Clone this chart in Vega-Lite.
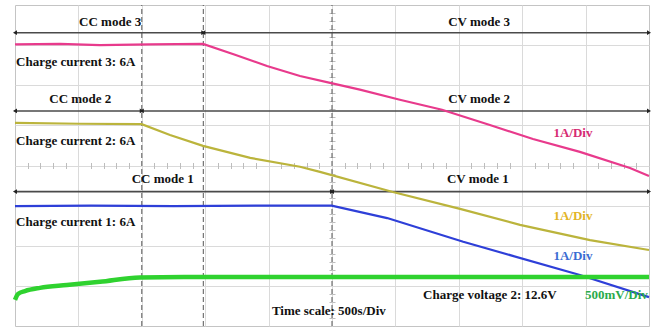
{
  "$schema": "https://vega.github.io/schema/vega-lite/v6.json",
  "width": 634,
  "height": 321,
  "autosize": "none",
  "padding": {"left": 15, "top": 5, "right": 4, "bottom": 2},
  "background": "white",
  "config": {"view": {"stroke": "#c4c4c4", "strokeWidth": 1}},
  "datasets": {
    "traces": [
      {"series": "ch3", "t": 0, "v": 7.02}, {"series": "ch3", "t": 0.71, "v": 7.03}, {"series": "ch3", "t": 1.34, "v": 7.0}, {"series": "ch3", "t": 2.13, "v": 7.02}, {"series": "ch3", "t": 2.965, "v": 7.03},
      {"series": "ch3", "t": 3.47, "v": 6.76}, {"series": "ch3", "t": 3.975, "v": 6.48}, {"series": "ch3", "t": 4.495, "v": 6.23}, {"series": "ch3", "t": 4.97, "v": 6.06}, {"series": "ch3", "t": 5.44, "v": 5.89},
      {"series": "ch3", "t": 6.07, "v": 5.64}, {"series": "ch3", "t": 6.735, "v": 5.39}, {"series": "ch3", "t": 7.49, "v": 5.01}, {"series": "ch3", "t": 8.17, "v": 4.66}, {"series": "ch3", "t": 8.91, "v": 4.34},
      {"series": "ch3", "t": 9.7, "v": 3.94}, {"series": "ch3", "t": 10, "v": 3.74},
      {"series": "ch2", "t": 0, "v": 5.06}, {"series": "ch2", "t": 1.025, "v": 5.04}, {"series": "ch2", "t": 1.998, "v": 5.03}, {"series": "ch2", "t": 2.445, "v": 4.76}, {"series": "ch2", "t": 2.965, "v": 4.49},
      {"series": "ch2", "t": 3.71, "v": 4.19}, {"series": "ch2", "t": 4.495, "v": 3.97}, {"series": "ch2", "t": 4.81, "v": 3.84}, {"series": "ch2", "t": 5.96, "v": 3.34}, {"series": "ch2", "t": 7.02, "v": 2.92},
      {"series": "ch2", "t": 7.965, "v": 2.52}, {"series": "ch2", "t": 9.07, "v": 2.14}, {"series": "ch2", "t": 10, "v": 1.895},
      {"series": "ch1", "t": 0, "v": 2.99}, {"series": "ch1", "t": 1.2, "v": 3.0}, {"series": "ch1", "t": 2.5, "v": 2.99}, {"series": "ch1", "t": 3.8, "v": 3.0}, {"series": "ch1", "t": 4.995, "v": 3.0},
      {"series": "ch1", "t": 5.87, "v": 2.69}, {"series": "ch1", "t": 7.07, "v": 2.1}, {"series": "ch1", "t": 8.91, "v": 1.27}, {"series": "ch1", "t": 10, "v": 0.72},
      {"series": "v2", "t": 0, "v": 0.65}, {"series": "v2", "t": 0.047, "v": 0.8}, {"series": "v2", "t": 0.158, "v": 0.87}, {"series": "v2", "t": 0.394, "v": 0.95}, {"series": "v2", "t": 0.82, "v": 1.02},
      {"series": "v2", "t": 1.34, "v": 1.1}, {"series": "v2", "t": 1.97, "v": 1.21}, {"series": "v2", "t": 2.92, "v": 1.22}, {"series": "v2", "t": 5, "v": 1.22}, {"series": "v2", "t": 7.5, "v": 1.22}, {"series": "v2", "t": 10, "v": 1.22}
    ],
    "dashes": [{"t": 2.0}, {"t": 2.97}, {"t": 5.0}],
    "arrows": [
      {"t0": 0, "t1": 2.97, "v": 7.31}, {"t0": 2.97, "t1": 10, "v": 7.31},
      {"t0": 0, "t1": 2.0, "v": 5.36}, {"t0": 2.0, "t1": 10, "v": 5.36},
      {"t0": 0, "t1": 5.0, "v": 3.35}, {"t0": 5.0, "t1": 10, "v": 3.35}
    ],
    "centerLabels": [
      {"text": "CC mode 3", "t": 1.5, "v": 7.58, "series": "note"},
      {"text": "CV mode 3", "t": 7.32, "v": 7.58, "series": "note"},
      {"text": "CC mode 2", "t": 1.03, "v": 5.66, "series": "note"},
      {"text": "CV mode 2", "t": 7.32, "v": 5.66, "series": "note"},
      {"text": "CC mode 1", "t": 2.33, "v": 3.66, "series": "note"},
      {"text": "CV mode 1", "t": 7.3, "v": 3.66, "series": "note"},
      {"text": "1A/Div", "t": 8.8, "v": 4.81, "series": "ch3 label"},
      {"text": "1A/Div", "t": 8.8, "v": 2.74, "series": "ch2 label"},
      {"text": "1A/Div", "t": 8.8, "v": 1.75, "series": "ch1 label"},
      {"text": "Charge voltage 2: 12.6V", "t": 7.49, "v": 0.77, "series": "note"},
      {"text": "Time scale: 500s/Div", "t": 4.95, "v": 0.38, "series": "note"}
    ],
    "leftLabels": [
      {"text": "Charge current 3: 6A", "t": 0.016, "v": 6.59, "series": "note"},
      {"text": "Charge current 2: 6A", "t": 0.016, "v": 4.6, "series": "note"},
      {"text": "Charge current 1: 6A", "t": 0.016, "v": 2.6, "series": "note"},
      {"text": "500mV/Div", "t": 8.99, "v": 0.77, "series": "v2 label"}
    ]
  },
  "layer": [
    {
      "data": {"name": "dashes"},
      "mark": {"type": "rule", "color": "#555555", "strokeWidth": 1, "strokeDash": [5, 3]},
      "encoding": {
        "x": {"field": "t", "type": "quantitative", "scale": {"domain": [0, 10], "nice": false, "zero": false},
              "axis": {"values": [1, 2, 3, 4, 5, 6, 7, 8, 9], "grid": true, "gridColor": "#dadada", "labels": false, "ticks": false, "domain": false, "title": null}},
        "y": {"datum": 0, "type": "quantitative", "scale": {"domain": [0, 8], "nice": false, "zero": false},
              "axis": {"values": [1, 2, 3, 4, 5, 6, 7], "grid": true, "gridColor": "#dadada", "labels": false, "ticks": false, "domain": false, "title": null}},
        "y2": {"datum": 8}
      }
    },
    {
      "data": {"name": "arrows"},
      "mark": {"type": "rule", "color": "#4a4a4a", "strokeWidth": 1.6},
      "encoding": {
        "x": {"field": "t0", "type": "quantitative",
              "axis": {"orient": "bottom", "offset": -160.5, "values": [0.2,0.4,0.6,0.8,1.2,1.4,1.6,1.8,2.2,2.4,2.6,2.8,3.2,3.4,3.6,3.8,4.2,4.4,4.6,4.8,5.2,5.4,5.6,5.8,6.2,6.4,6.6,6.8,7.2,7.4,7.6,7.8,8.2,8.4,8.6,8.8,9.2,9.4,9.6,9.8], "tickSize": 3, "tickColor": "#bdbdbd", "labels": false, "domain": false, "grid": false, "title": null}},
        "x2": {"field": "t1"},
        "y": {"field": "v", "type": "quantitative",
              "axis": {"orient": "left", "offset": -317, "values": [0.2,0.4,0.6,0.8,1.2,1.4,1.6,1.8,2.2,2.4,2.6,2.8,3.2,3.4,3.6,3.8,4.2,4.4,4.6,4.8,5.2,5.4,5.6,5.8,6.2,6.4,6.6,6.8,7.2,7.4,7.6,7.8], "tickSize": 3, "tickColor": "#bdbdbd", "labels": false, "domain": false, "grid": false, "title": null}}
      }
    },
    {
      "data": {"name": "arrows"},
      "mark": {"type": "point", "shape": "triangle-left", "filled": true, "color": "#222222", "size": 22, "opacity": 1},
      "encoding": {
        "x": {"field": "t0", "type": "quantitative",
              "axis": {"orient": "top", "offset": -160.5, "values": [0.2,0.4,0.6,0.8,1.2,1.4,1.6,1.8,2.2,2.4,2.6,2.8,3.2,3.4,3.6,3.8,4.2,4.4,4.6,4.8,5.2,5.4,5.6,5.8,6.2,6.4,6.6,6.8,7.2,7.4,7.6,7.8,8.2,8.4,8.6,8.8,9.2,9.4,9.6,9.8], "tickSize": 3, "tickColor": "#bdbdbd", "labels": false, "domain": false, "grid": false, "title": null}},
        "y": {"field": "v", "type": "quantitative",
              "axis": {"orient": "right", "offset": -317, "values": [0.2,0.4,0.6,0.8,1.2,1.4,1.6,1.8,2.2,2.4,2.6,2.8,3.2,3.4,3.6,3.8,4.2,4.4,4.6,4.8,5.2,5.4,5.6,5.8,6.2,6.4,6.6,6.8,7.2,7.4,7.6,7.8], "tickSize": 3, "tickColor": "#bdbdbd", "labels": false, "domain": false, "grid": false, "title": null}}
      }
    },
    {
      "data": {"name": "arrows"},
      "mark": {"type": "point", "shape": "triangle-right", "filled": true, "color": "#222222", "size": 22, "opacity": 1},
      "encoding": {
        "x": {"field": "t1", "type": "quantitative", "axis": null},
        "y": {"field": "v", "type": "quantitative", "axis": null}
      }
    },
    {
      "data": {"name": "traces"},
      "transform": [{"filter": "datum.series !== 'v2'"}],
      "mark": {"type": "line", "strokeWidth": 2.2, "interpolate": "linear"},
      "encoding": {
        "x": {"field": "t", "type": "quantitative", "axis": null},
        "y": {"field": "v", "type": "quantitative", "axis": null},
        "color": {"field": "series", "type": "nominal", "legend": null,
                  "scale": {"domain": ["ch3", "ch2", "ch1", "v2", "note", "ch3 label", "ch2 label", "ch1 label", "v2 label"],
                            "range": ["#e83a8c", "#bbb43c", "#2e3fd8", "#2fd22f", "#111111", "#d62b72", "#e2b426", "#3a6cd2", "#2aaa4c"]}},
        "detail": {"field": "series"}
      }
    },
    {
      "data": {"name": "traces"},
      "transform": [{"filter": "datum.series === 'v2'"}],
      "mark": {"type": "line", "strokeWidth": 4.5, "interpolate": "monotone"},
      "encoding": {
        "x": {"field": "t", "type": "quantitative", "axis": null},
        "y": {"field": "v", "type": "quantitative", "axis": null},
        "color": {"field": "series", "type": "nominal", "legend": null}
      }
    },
    {
      "data": {"name": "centerLabels"},
      "mark": {"type": "text", "font": "Liberation Serif", "fontWeight": "bold", "fontSize": 13, "align": "center", "baseline": "middle"},
      "encoding": {
        "x": {"field": "t", "type": "quantitative", "axis": null},
        "y": {"field": "v", "type": "quantitative", "axis": null},
        "text": {"field": "text"},
        "color": {"field": "series", "type": "nominal", "legend": null}
      }
    },
    {
      "data": {"name": "leftLabels"},
      "mark": {"type": "text", "font": "Liberation Serif", "fontWeight": "bold", "fontSize": 13, "align": "left", "baseline": "middle"},
      "encoding": {
        "x": {"field": "t", "type": "quantitative", "axis": null},
        "y": {"field": "v", "type": "quantitative", "axis": null},
        "text": {"field": "text"},
        "color": {"field": "series", "type": "nominal", "legend": null}
      }
    }
  ],
  "resolve": {"axis": {"x": "independent", "y": "independent"}}
}
